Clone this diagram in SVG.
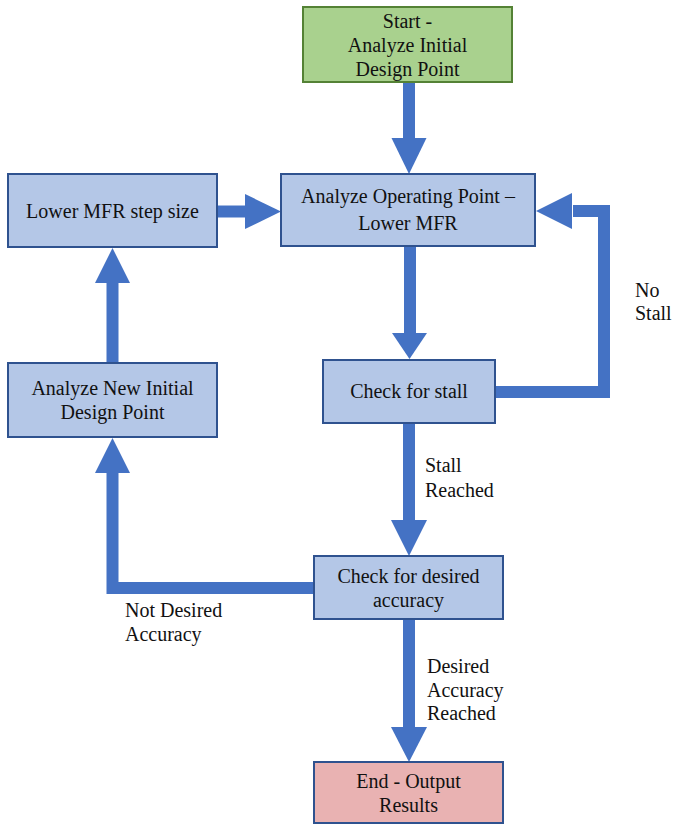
<svg xmlns="http://www.w3.org/2000/svg" width="673" height="825" viewBox="0 0 673 825" font-family="Liberation Serif, DejaVu Serif, serif" font-size="20">
<style>
.box{fill:#b4c7e7;stroke:#2f528f;stroke-width:2}
.start{fill:#a9d18e;stroke:#548235;stroke-width:2}
.end{fill:#e9b2b2;stroke:#2f528f;stroke-width:2}
text{fill:#111}
.c{text-anchor:middle}
.shaft{fill:none;stroke:#4472c4;stroke-width:12;stroke-linejoin:miter}
.head{fill:#4472c4}
</style>
<rect width="673" height="825" fill="#fff"/>
<g id="connectors">
<path class="shaft" d="M409,82 V139"/>
<polygon class="head" points="391.5,138 426.5,138 409,174"/>
<path class="shaft" d="M217,211.5 H246"/>
<polygon class="head" points="245,194 245,229 281,211.5"/>
<path class="shaft" d="M410,246 V334"/>
<polygon class="head" points="392,333 427,333 409.5,359"/>
<path class="shaft" d="M495,392 H604 V211 H573"/>
<polygon class="head" points="572,193 572,229 536,211"/>
<path class="shaft" d="M409,423 V521"/>
<polygon class="head" points="391,520 427,520 409,556"/>
<path class="shaft" d="M314,588 H112.5 V472"/>
<polygon class="head" points="95,473 130,473 112.5,438"/>
<path class="shaft" d="M112.5,363 V282"/>
<polygon class="head" points="95,283 130,283 112.5,248"/>
<path class="shaft" d="M409,619 V728"/>
<polygon class="head" points="391,727 427,727 409,762"/>
<text x="635" y="297">No</text>
<text x="635" y="320">Stall</text>
<text x="425" y="472">Stall</text>
<text x="425" y="497">Reached</text>
<text x="125" y="617">Not Desired</text>
<text x="125" y="641">Accuracy</text>
<text x="427" y="673">Desired</text>
<text x="427" y="697">Accuracy</text>
<text x="427" y="720">Reached</text>
</g>
<g id="start">
<rect class="start" x="303" y="7" width="209" height="75"/>
<text class="c" x="407.5" y="28">Start -</text>
<text class="c" x="407.5" y="52">Analyze Initial</text>
<text class="c" x="407.5" y="76">Design Point</text>
</g>
<g id="analyze-operating">
<rect class="box" x="281" y="174" width="254" height="72"/>
<text class="c" x="408" y="203">Analyze Operating Point –</text>
<text class="c" x="408" y="230">Lower MFR</text>
</g>
<g id="lower-step">
<rect class="box" x="8" y="174" width="209" height="73"/>
<text class="c" x="112.5" y="218">Lower MFR step size</text>
</g>
<g id="new-initial">
<rect class="box" x="8" y="363" width="209" height="74"/>
<text class="c" x="112.5" y="395">Analyze New Initial</text>
<text class="c" x="112.5" y="419">Design Point</text>
</g>
<g id="check-stall">
<rect class="box" x="323" y="360" width="172" height="63"/>
<text class="c" x="409" y="398">Check for stall</text>
</g>
<g id="check-accuracy">
<rect class="box" x="314" y="556" width="189" height="63"/>
<text class="c" x="408.5" y="583">Check for desired</text>
<text class="c" x="408.5" y="607">accuracy</text>
</g>
<g id="end">
<rect class="end" x="314" y="762" width="189" height="61"/>
<text class="c" x="408.5" y="788">End - Output</text>
<text class="c" x="408.5" y="812">Results</text>
</g>
</svg>
